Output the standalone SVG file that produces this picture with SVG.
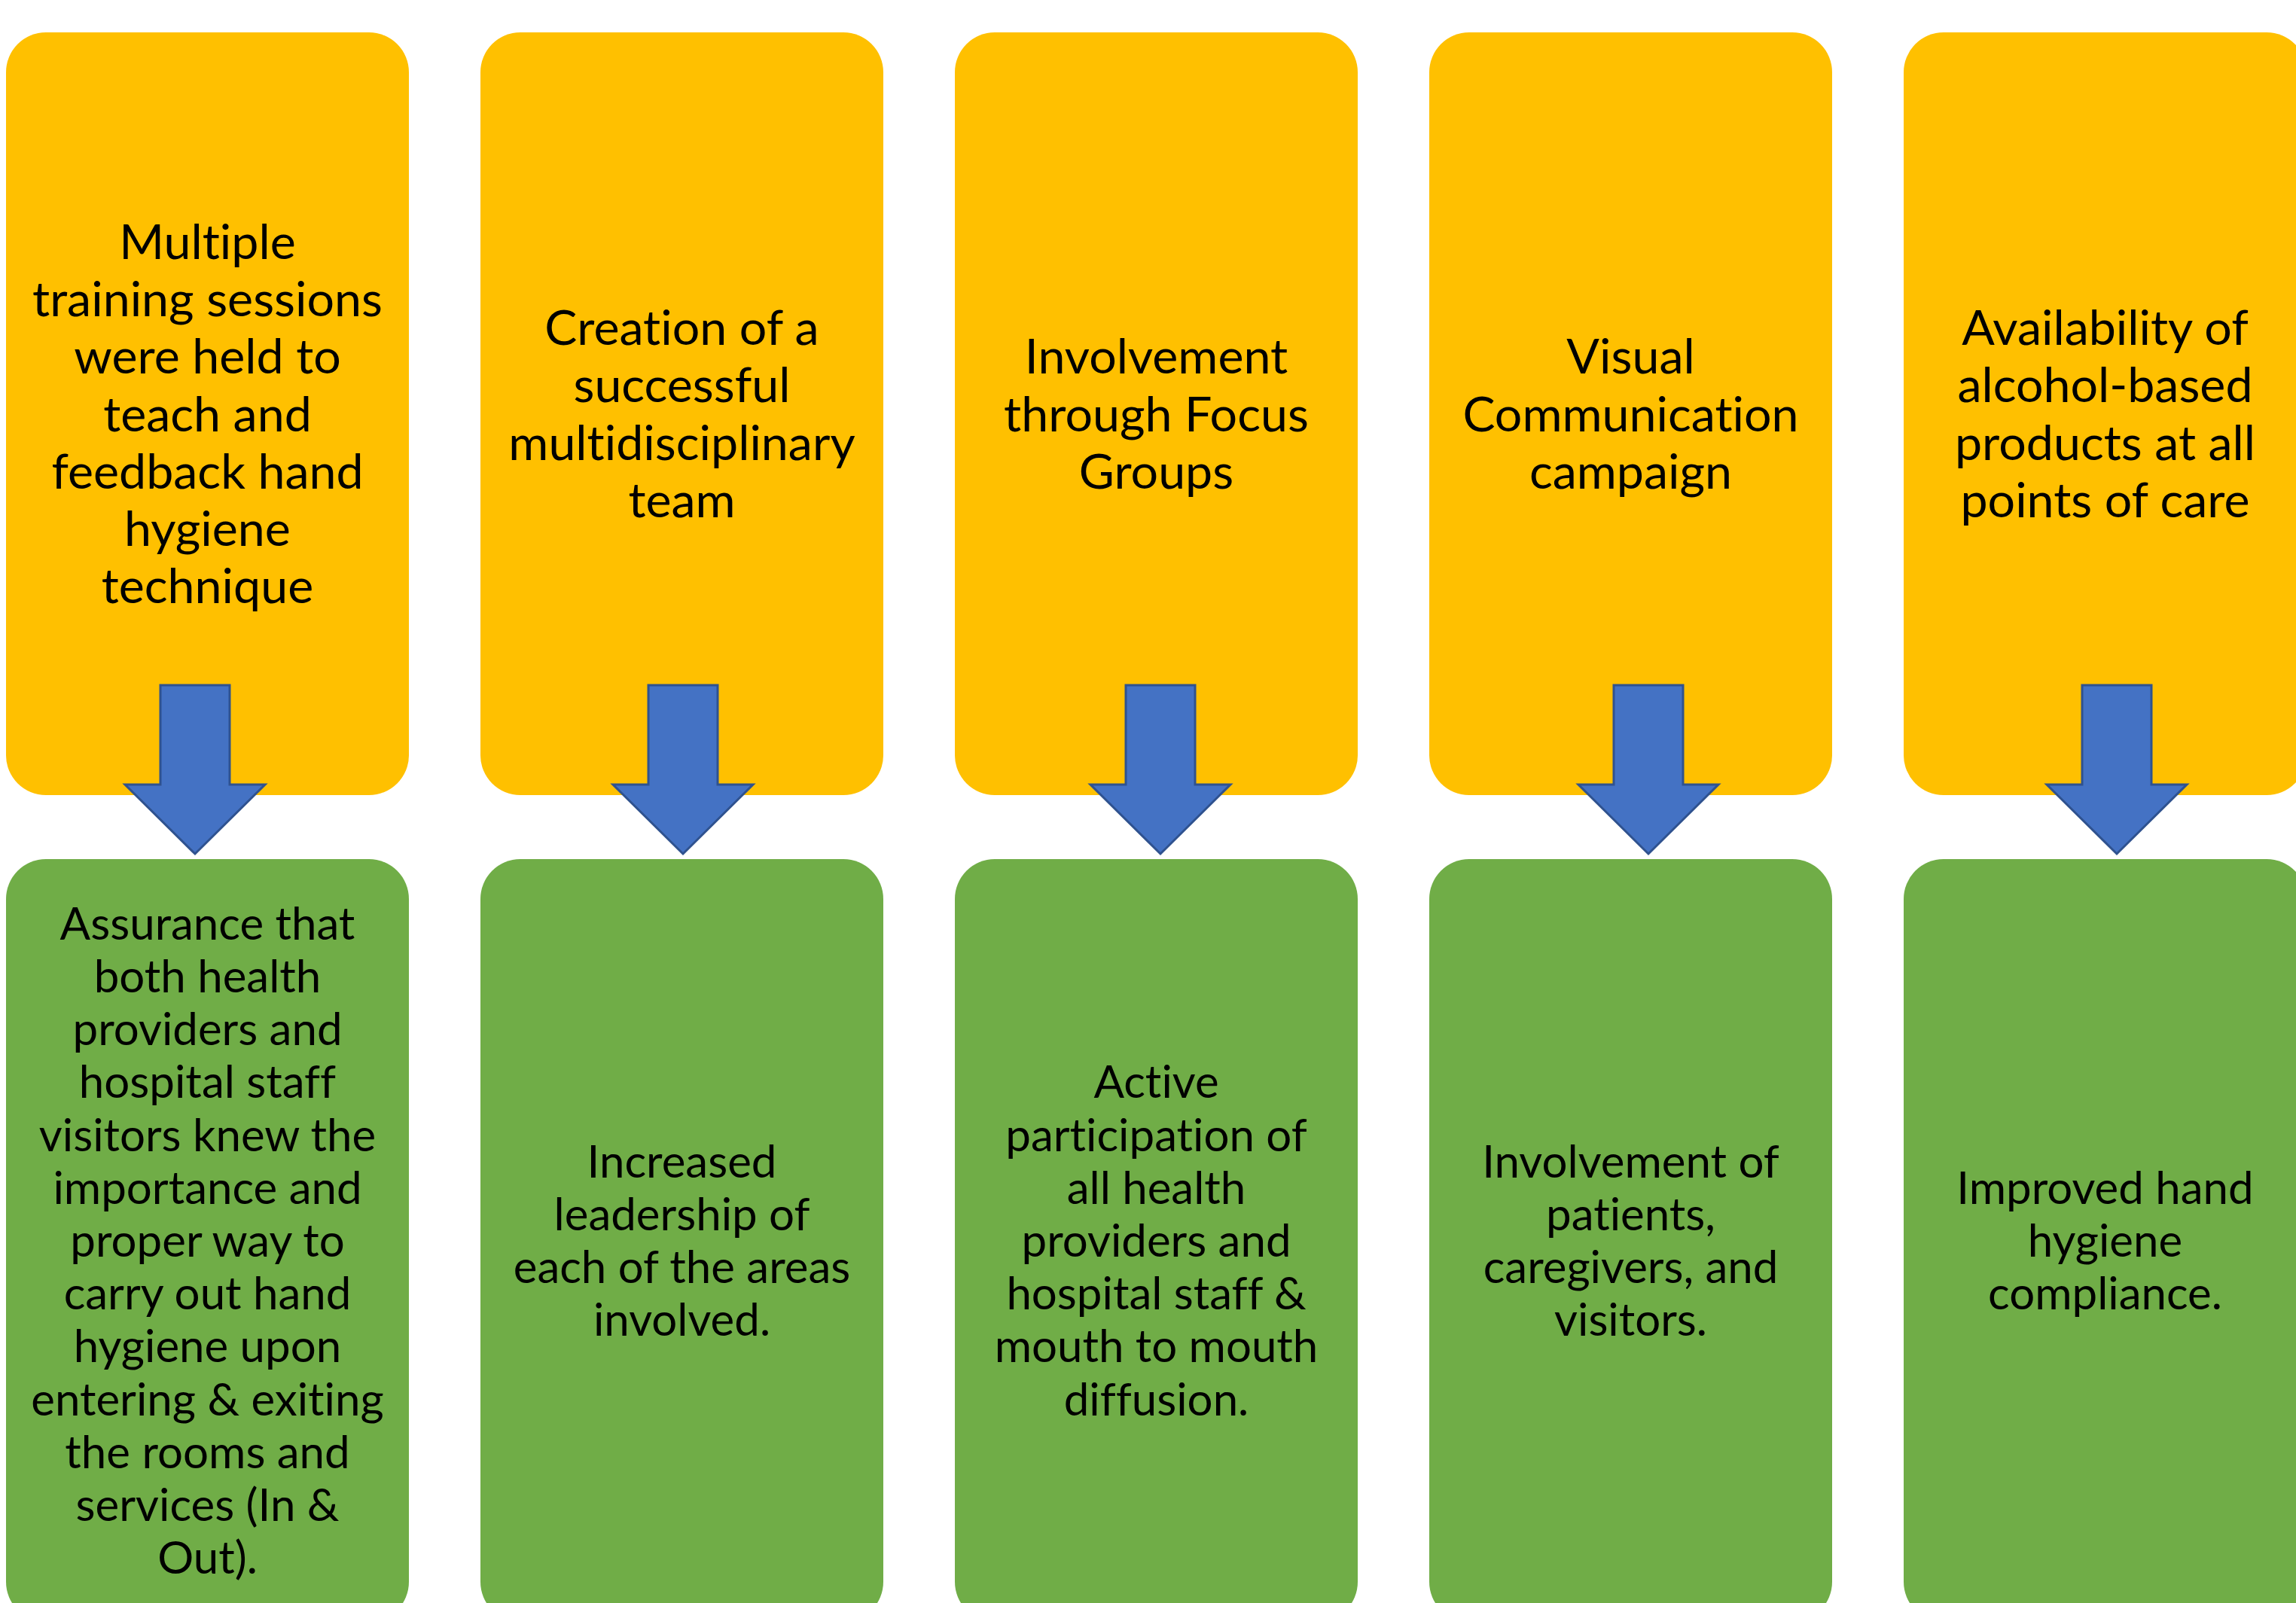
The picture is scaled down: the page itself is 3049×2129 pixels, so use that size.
<svg xmlns="http://www.w3.org/2000/svg" width="3049" height="2129" viewBox="0 0 3049 2129">
<style>
.top{fill:#FFC000}
.bot{fill:#70AD47}
.t{font-family:Lato,"Open Sans","Liberation Sans",sans-serif;fill:#000;text-anchor:middle;font-variant-ligatures:none;font-feature-settings:"liga" 0}
.tt{font-size:64.5px}
.gt{font-size:60px}
.arr{fill:#4472C4;stroke:#2F528F;stroke-width:3;stroke-linejoin:miter}
</style>
<rect width="3049" height="2129" fill="#fff"/>
<g id="n1">
<rect class="top" x="8" y="43" width="535" height="1013" rx="53" ry="53"/>
<text class="t tt"><tspan x="275.5" y="344">Multiple</tspan><tspan x="275.5" y="420">training sessions</tspan><tspan x="275.5" y="496">were held to</tspan><tspan x="275.5" y="573">teach and</tspan><tspan x="275.5" y="649">feedback hand</tspan><tspan x="275.5" y="725">hygiene</tspan><tspan x="275.5" y="801">technique</tspan></text>
</g>
<g id="n2">
<rect class="top" x="638" y="43" width="535" height="1013" rx="53" ry="53"/>
<text class="t tt"><tspan x="905.5" y="458">Creation of a</tspan><tspan x="905.5" y="534">successful</tspan><tspan x="905.5" y="611">multidisciplinary</tspan><tspan x="905.5" y="687">team</tspan></text>
</g>
<g id="n3">
<rect class="top" x="1268" y="43" width="535" height="1013" rx="53" ry="53"/>
<text class="t tt"><tspan x="1535.5" y="496">Involvement</tspan><tspan x="1535.5" y="573">through Focus</tspan><tspan x="1535.5" y="649">Groups</tspan></text>
</g>
<g id="n4">
<rect class="top" x="1898" y="43" width="535" height="1013" rx="53" ry="53"/>
<text class="t tt"><tspan x="2165.5" y="496">Visual</tspan><tspan x="2165.5" y="573">Communication</tspan><tspan x="2165.5" y="649">campaign</tspan></text>
</g>
<g id="n5">
<rect class="top" x="2528" y="43" width="535" height="1013" rx="53" ry="53"/>
<text class="t tt"><tspan x="2795.5" y="458">Availability of</tspan><tspan x="2795.5" y="534">alcohol-based</tspan><tspan x="2795.5" y="611">products at all</tspan><tspan x="2795.5" y="687">points of care</tspan></text>
</g>
<g id="r1">
<rect class="bot" x="8" y="1141" width="535" height="1013" rx="53" ry="53"/>
<text class="t gt"><tspan x="275.5" y="1248">Assurance that</tspan><tspan x="275.5" y="1318">both health</tspan><tspan x="275.5" y="1388">providers and</tspan><tspan x="275.5" y="1458">hospital staff</tspan><tspan x="275.5" y="1529">visitors knew the</tspan><tspan x="275.5" y="1599">importance and</tspan><tspan x="275.5" y="1669">proper way to</tspan><tspan x="275.5" y="1739">carry out hand</tspan><tspan x="275.5" y="1809">hygiene upon</tspan><tspan x="275.5" y="1880">entering &amp; exiting</tspan><tspan x="275.5" y="1950">the rooms and</tspan><tspan x="275.5" y="2020">services (In &amp;</tspan><tspan x="275.5" y="2090">Out).</tspan></text>
</g>
<g id="r2">
<rect class="bot" x="638" y="1141" width="535" height="1013" rx="53" ry="53"/>
<text class="t gt"><tspan x="905.5" y="1564">Increased</tspan><tspan x="905.5" y="1634">leadership of</tspan><tspan x="905.5" y="1704">each of the areas</tspan><tspan x="905.5" y="1774">involved.</tspan></text>
</g>
<g id="r3">
<rect class="bot" x="1268" y="1141" width="535" height="1013" rx="53" ry="53"/>
<text class="t gt"><tspan x="1535.5" y="1458">Active</tspan><tspan x="1535.5" y="1529">participation of</tspan><tspan x="1535.5" y="1599">all health</tspan><tspan x="1535.5" y="1669">providers and</tspan><tspan x="1535.5" y="1739">hospital staff &amp;</tspan><tspan x="1535.5" y="1809">mouth to mouth</tspan><tspan x="1535.5" y="1880">diffusion.</tspan></text>
</g>
<g id="r4">
<rect class="bot" x="1898" y="1141" width="535" height="1013" rx="53" ry="53"/>
<text class="t gt"><tspan x="2165.5" y="1564">Involvement of</tspan><tspan x="2165.5" y="1634">patients,</tspan><tspan x="2165.5" y="1704">caregivers, and</tspan><tspan x="2165.5" y="1774">visitors.</tspan></text>
</g>
<g id="r5">
<rect class="bot" x="2528" y="1141" width="535" height="1013" rx="53" ry="53"/>
<text class="t gt"><tspan x="2795.5" y="1599">Improved hand</tspan><tspan x="2795.5" y="1669">hygiene</tspan><tspan x="2795.5" y="1739">compliance.</tspan></text>
</g>
<g id="connectors">
<polygon class="arr" points="213,910 305,910 305,1042 352,1042 259,1134 166,1042 213,1042"/>
<polygon class="arr" points="861,910 953,910 953,1042 1000,1042 907,1134 814,1042 861,1042"/>
<polygon class="arr" points="1495,910 1587,910 1587,1042 1634,1042 1541,1134 1448,1042 1495,1042"/>
<polygon class="arr" points="2143,910 2235,910 2235,1042 2282,1042 2189,1134 2096,1042 2143,1042"/>
<polygon class="arr" points="2765,910 2857,910 2857,1042 2904,1042 2811,1134 2718,1042 2765,1042"/>
</g>
</svg>
